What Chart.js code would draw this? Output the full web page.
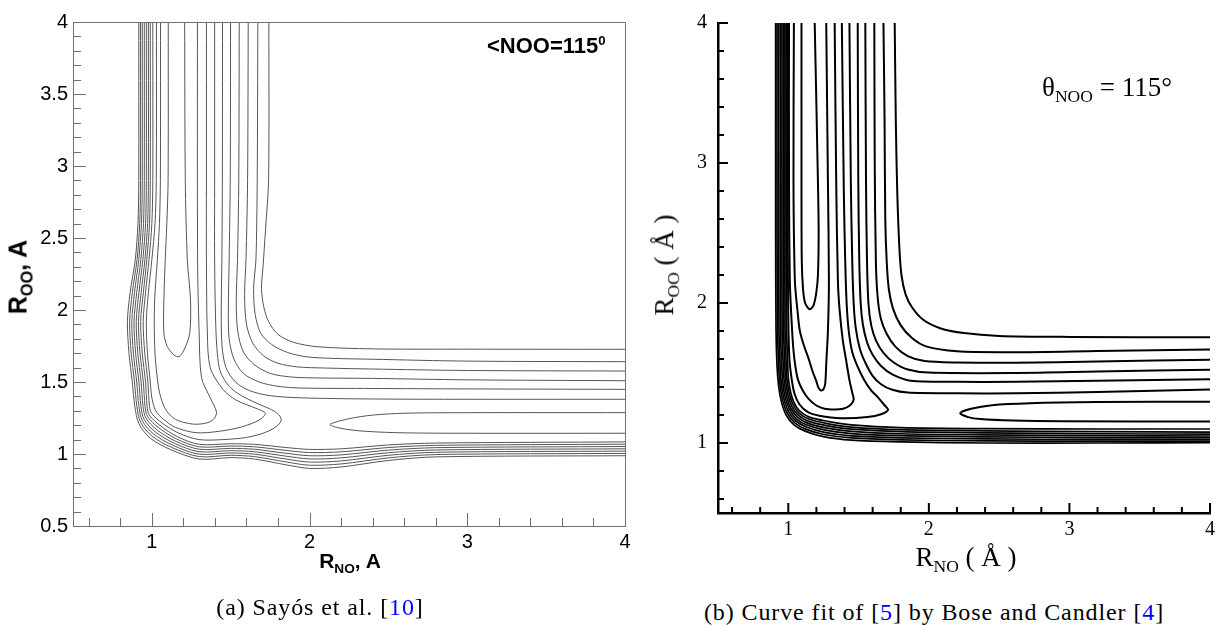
<!DOCTYPE html>
<html>
<head>
<meta charset="utf-8">
<script src="https://cdn.jsdelivr.net/npm/chart.js@4.4.1/dist/chart.umd.min.js"></script>
<style>
  html, body { margin: 0; padding: 0; background: #fff; }
  #page { position: relative; width: 1220px; height: 626px; overflow: hidden; background: #fff; }
  canvas { position: absolute; }
  #left-chart { left: 0; top: 0; }
  #right-chart { left: 630px; top: 0; }
  .txt { position: absolute; white-space: nowrap; line-height: 1; color: #000; }
  .sans { font-family: "Liberation Sans", Arial, sans-serif; font-weight: bold; }
  .serif { font-family: "Liberation Serif", "Times New Roman", serif; }
  .rot { transform: translate(-50%, -50%) rotate(-90deg); }
  .ctr { transform: translate(-50%, -50%); }
  .cap { letter-spacing: 0.9px; }
  .ref { color: #0000ff; }
  sub { font-size: 0.65em; vertical-align: -0.35em; }
  sup { font-size: 0.6em; vertical-align: 0.6em; }
</style>
</head>
<body>
<div id="page">
  <canvas id="left-chart" width="640" height="580"></canvas>
  <canvas id="right-chart" width="590" height="550"></canvas>

  <div class="txt sans rot" style="left:20px;top:277px;font-size:25px">R<sub>OO</sub>, A</div>
  <div class="txt sans ctr" style="left:350px;top:563px;font-size:21px">R<sub>NO</sub>, A</div>
  <div class="txt sans" style="left:487px;top:34px;font-size:22px">&lt;NOO=115<sup>0</sup></div>
  <div class="txt serif ctr cap" style="left:320px;top:607px;font-size:24px">(a) Sayós et al. [<span class="ref">10</span>]</div>

  <div class="txt serif rot" style="left:667px;top:265px;font-size:27px">R<sub>OO</sub> ( Å )</div>
  <div class="txt serif ctr" style="left:966px;top:560px;font-size:27px">R<sub>NO</sub> ( Å )</div>
  <div class="txt serif" style="left:1042px;top:74px;font-size:27px">θ<sub>NOO</sub> = 115°</div>
  <div class="txt serif ctr cap" style="left:934px;top:612px;font-size:24px">(b) Curve fit of [<span class="ref">5</span>] by Bose and Candler [<span class="ref">4</span>]</div>
</div>

<script>
// ---- (a) Sayos et al. : axis ticks ----
const leftXMajor = [1, 2, 3, 4];
const leftXMinor = [0.6, 0.8, 1.2, 1.4, 1.6, 1.8, 2.2, 2.4, 2.6, 2.8, 3.2, 3.4, 3.6, 3.8];
const leftYMajor = [0.5, 1, 1.5, 2, 2.5, 3, 3.5, 4];
const leftYMinor = [0.6, 0.7, 0.8, 0.9, 1.1, 1.2, 1.3, 1.4, 1.6, 1.7, 1.8, 1.9, 2.1, 2.2, 2.3, 2.4,
    2.6, 2.7, 2.8, 2.9, 3.1, 3.2, 3.3, 3.4, 3.6, 3.7, 3.8, 3.9];

// repulsive wall lines, running from the top round the corner to the right edge
const leftWalls = [
    [[0.917,4],[0.917,2.9],[0.912,2.6],[0.895,2.35],[0.862,2.12],[0.845,1.92],[0.855,1.7],[0.876,1.5],[0.892,1.33],[0.918,1.21],[0.99,1.11],[1.12,1.03],[1.3,0.965],[1.5,0.975],[1.65,0.965],[1.85,0.925],[2.0,0.9],[2.2,0.91],[2.5,0.955],[2.8,0.98],[4,0.988]],
    [[0.928,4],[0.928,2.9],[0.923,2.6],[0.906,2.35],[0.876,2.12],[0.859,1.92],[0.869,1.7],[0.89,1.5],[0.905,1.33],[0.929,1.22],[1.0,1.125],[1.127,1.045],[1.3,0.982],[1.5,0.991],[1.65,0.982],[1.85,0.945],[2.0,0.922],[2.2,0.931],[2.5,0.973],[2.8,0.996],[4,1.004]],
    [[0.939,4],[0.939,2.9],[0.934,2.6],[0.917,2.35],[0.89,2.12],[0.873,1.92],[0.883,1.7],[0.904,1.5],[0.918,1.33],[0.94,1.23],[1.01,1.14],[1.134,1.06],[1.3,0.999],[1.5,1.007],[1.65,0.999],[1.85,0.965],[2.0,0.944],[2.2,0.952],[2.5,0.991],[2.8,1.012],[4,1.02]],
    [[0.952,4],[0.952,2.9],[0.947,2.6],[0.93,2.35],[0.904,2.12],[0.887,1.92],[0.897,1.7],[0.918,1.5],[0.931,1.33],[0.951,1.24],[1.02,1.155],[1.141,1.075],[1.3,1.016],[1.5,1.023],[1.65,1.016],[1.85,0.985],[2.0,0.966],[2.2,0.973],[2.5,1.009],[2.8,1.028],[4,1.036]],
    [[0.965,4],[0.965,2.9],[0.96,2.6],[0.943,2.35],[0.918,2.12],[0.901,1.92],[0.911,1.7],[0.932,1.5],[0.944,1.33],[0.962,1.25],[1.03,1.17],[1.148,1.09],[1.3,1.033],[1.5,1.039],[1.65,1.033],[1.85,1.005],[2.0,0.988],[2.2,0.994],[2.5,1.027],[2.8,1.044],[4,1.052]],
    [[0.978,4],[0.978,2.9],[0.973,2.6],[0.956,2.35],[0.932,2.12],[0.915,1.92],[0.925,1.7],[0.946,1.5],[0.957,1.33],[0.973,1.26],[1.04,1.185],[1.155,1.105],[1.3,1.05],[1.5,1.055],[1.65,1.05],[1.85,1.025],[2.0,1.01],[2.2,1.015],[2.5,1.045],[2.8,1.06],[4,1.068]],
    [[0.99,4],[0.99,2.9],[0.985,2.6],[0.968,2.35],[0.946,2.12],[0.929,1.92],[0.939,1.7],[0.96,1.5],[0.97,1.33],[0.984,1.27],[1.05,1.2],[1.162,1.12],[1.3,1.067],[1.5,1.071],[1.65,1.067],[1.85,1.045],[2.0,1.032],[2.2,1.036],[2.5,1.063],[2.8,1.076],[4,1.084]]
];

// closed loops hanging from the top (well, V-tip, lobe, outer lobe)
const leftLoops = [
    [[1.104,4],[1.103,2.9],[1.095,2.6],[1.085,2.35],[1.077,2.1],[1.076,1.84],[1.098,1.746],[1.14,1.688],[1.172,1.676],[1.204,1.723],[1.24,1.838],[1.245,2.07],[1.225,2.35],[1.212,2.9],[1.208,4]],
    [[1.055,4],[1.054,2.9],[1.048,2.6],[1.035,2.35],[1.02,2.12],[1.015,1.92],[1.02,1.7],[1.032,1.55],[1.05,1.42],[1.087,1.31],[1.151,1.24],[1.257,1.208],[1.342,1.214],[1.39,1.24],[1.41,1.29],[1.37,1.39],[1.315,1.53],[1.3,1.84],[1.29,2.35],[1.289,4]],
    [[1.029,4],[1.028,2.9],[1.02,2.6],[1.0,2.35],[0.978,2.12],[0.965,1.92],[0.972,1.7],[0.99,1.5],[1.0,1.39],[1.025,1.3],[1.075,1.24],[1.15,1.185],[1.28,1.148],[1.43,1.158],[1.575,1.19],[1.68,1.236],[1.72,1.283],[1.66,1.317],[1.533,1.375],[1.45,1.45],[1.37,1.6],[1.352,1.84],[1.346,2.35],[1.346,2.9],[1.346,4]],
    [[1.006,4],[1.006,2.9],[1.0,2.6],[0.982,2.35],[0.96,2.12],[0.945,1.92],[0.955,1.7],[0.975,1.5],[0.985,1.33],[1.0,1.28],[1.065,1.215],[1.17,1.145],[1.3,1.1],[1.45,1.1],[1.6,1.115],[1.72,1.15],[1.8,1.2],[1.82,1.245],[1.78,1.295],[1.66,1.355],[1.56,1.41],[1.49,1.47],[1.435,1.57],[1.415,1.7],[1.405,1.9],[1.398,2.35],[1.398,2.9],[1.398,4]]
];

// lines turning the corner from the O + NO channel into the N + O2 channel
const leftCorners = [
    [[1.742,4],[1.74,2.9],[1.72,2.55],[1.705,2.3],[1.695,2.15],[1.71,2.02],[1.74,1.92],[1.8,1.83],[1.9,1.775],[2.05,1.745],[2.4,1.73],[3,1.728],[4,1.727]],
    [[1.672,4],[1.668,2.9],[1.66,2.35],[1.645,2.15],[1.655,1.97],[1.69,1.84],[1.76,1.76],[1.86,1.705],[1.98,1.675],[2.15,1.664],[2.4,1.658],[3,1.645],[4,1.641]],
    [[1.611,4],[1.607,2.9],[1.597,2.35],[1.588,2.1],[1.6,1.9],[1.64,1.77],[1.71,1.68],[1.8,1.63],[1.92,1.605],[2.1,1.597],[2.4,1.59],[3,1.58],[4,1.576]],
    [[1.554,4],[1.551,2.9],[1.543,2.35],[1.535,2.05],[1.545,1.85],[1.58,1.71],[1.65,1.62],[1.75,1.56],[1.88,1.535],[2.05,1.528],[2.4,1.525],[3,1.515],[4,1.509]],
    [[1.499,4],[1.497,2.9],[1.49,2.35],[1.485,2.0],[1.49,1.8],[1.52,1.66],[1.58,1.56],[1.68,1.5],[1.8,1.47],[1.95,1.458],[2.4,1.455],[3,1.452],[4,1.449]],
    [[1.448,4],[1.447,2.9],[1.444,2.35],[1.44,2.0],[1.445,1.75],[1.47,1.6],[1.53,1.5],[1.62,1.44],[1.75,1.405],[1.95,1.39],[2.4,1.382],[3,1.38],[4,1.38]]
];

const leftTongue = [[4,1.287],[3,1.287],[2.6,1.283],[2.4,1.27],[2.25,1.245],[2.13,1.205],[2.2,1.178],[2.35,1.158],[2.6,1.147],[3,1.144],[4,1.144]];

// ---- (b) Bose and Candler fit : axis ticks ----
const rightXMajor = [1, 2, 3, 4];
const rightXMinor = [0.6, 0.8, 1.2, 1.4, 1.6, 1.8, 2.2, 2.4, 2.6, 2.8, 3.2, 3.4, 3.6, 3.8];
const rightYMajor = [1, 2, 3, 4];
const rightYMinor = [0.6, 0.8, 1.2, 1.4, 1.6, 1.8, 2.2, 2.4, 2.6, 2.8, 3.2, 3.4, 3.6, 3.8];

const rightWalls = [
    [[0.91,4],[0.91,2.5],[0.913,1.8],[0.92,1.55],[0.932,1.4],[0.952,1.29],[0.985,1.2],[1.04,1.13],[1.12,1.085],[1.25,1.045],[1.45,1.02],[1.8,1.008],[2.4,1.0],[3.2,1.0],[4,1.002]],
    [[0.92,4],[0.92,2.5],[0.924,1.8],[0.931,1.557],[0.942,1.41],[0.961,1.301],[0.993,1.213],[1.046,1.144],[1.124,1.099],[1.254,1.061],[1.45,1.036],[1.8,1.023],[2.4,1.015],[3.2,1.013],[4,1.013]],
    [[0.932,4],[0.932,2.5],[0.934,1.8],[0.941,1.564],[0.951,1.42],[0.97,1.313],[1.001,1.226],[1.051,1.159],[1.129,1.114],[1.259,1.076],[1.45,1.051],[1.8,1.037],[2.4,1.029],[3.2,1.026],[4,1.026]],
    [[0.944,4],[0.944,2.5],[0.945,1.8],[0.952,1.571],[0.961,1.43],[0.979,1.324],[1.009,1.239],[1.057,1.173],[1.133,1.128],[1.263,1.092],[1.45,1.067],[1.8,1.052],[2.4,1.044],[3.2,1.039],[4,1.038]],
    [[0.955,4],[0.955,2.5],[0.956,1.8],[0.963,1.579],[0.971,1.44],[0.988,1.336],[1.016,1.251],[1.063,1.187],[1.137,1.142],[1.267,1.108],[1.45,1.083],[1.8,1.066],[2.4,1.058],[3.2,1.052],[4,1.05]],
    [[0.966,4],[0.966,2.5],[0.967,1.8],[0.974,1.586],[0.981,1.45],[0.997,1.347],[1.024,1.264],[1.069,1.201],[1.141,1.156],[1.271,1.124],[1.45,1.099],[1.8,1.081],[2.4,1.073],[3.2,1.066],[4,1.063]],
    [[0.976,4],[0.976,2.5],[0.977,1.8],[0.984,1.593],[0.99,1.46],[1.006,1.359],[1.032,1.277],[1.074,1.216],[1.146,1.171],[1.276,1.139],[1.45,1.114],[1.8,1.095],[2.4,1.087],[3.2,1.081],[4,1.078]],
    [[0.985,4],[0.985,2.5],[0.988,1.8],[0.995,1.6],[1.0,1.47],[1.015,1.37],[1.04,1.29],[1.08,1.23],[1.15,1.185],[1.28,1.155],[1.45,1.13],[1.8,1.11],[2.4,1.102],[3.2,1.1],[4,1.1]]
];

const rightLoops = [
    [[1.094,4],[1.094,2.862],[1.096,2.3],[1.105,2.1],[1.12,2.0],[1.153,1.955],[1.18,1.985],[1.2,2.08],[1.211,2.2],[1.216,2.5],[1.211,2.862],[1.188,4]],
    [[1.04,4],[1.037,2.862],[1.047,2.155],[1.065,1.95],[1.082,1.802],[1.11,1.7],[1.141,1.613],[1.17,1.52],[1.2,1.44],[1.215,1.395],[1.235,1.375],[1.252,1.388],[1.263,1.425],[1.27,1.566],[1.282,1.802],[1.289,2.155],[1.282,2.862],[1.27,4]],
    [[1.005,4],[1.005,2.862],[1.011,2.155],[1.022,1.9],[1.035,1.684],[1.05,1.55],[1.07,1.449],[1.1,1.38],[1.141,1.319],[1.2,1.268],[1.258,1.245],[1.33,1.24],[1.39,1.245],[1.44,1.27],[1.465,1.31],[1.455,1.36],[1.435,1.449],[1.41,1.6],[1.388,1.731],[1.365,1.95],[1.353,2.155],[1.341,2.862],[1.33,4]],
    [[0.995,4],[0.996,2.5],[1.0,1.9],[1.008,1.6],[1.025,1.45],[1.045,1.35],[1.08,1.275],[1.14,1.22],[1.22,1.195],[1.376,1.177],[1.564,1.185],[1.66,1.205],[1.71,1.237],[1.68,1.275],[1.635,1.33],[1.588,1.378],[1.54,1.45],[1.494,1.543],[1.455,1.65],[1.43,1.8],[1.415,2.0],[1.405,2.3],[1.395,2.8],[1.381,4]]
];

const rightCorners = [
    [[1.757,4],[1.765,3.3],[1.775,2.8],[1.79,2.4],[1.805,2.2],[1.835,2.06],[1.88,1.97],[1.96,1.88],[2.08,1.82],[2.25,1.785],[2.5,1.765],[3,1.758],[4,1.755]],
    [[1.677,4],[1.685,3.3],[1.69,2.6],[1.7,2.3],[1.715,2.1],[1.745,1.96],[1.8,1.84],[1.88,1.75],[1.98,1.69],[2.2,1.655],[2.62,1.649],[3.2,1.657],[4,1.668]],
    [[1.612,4],[1.615,3.0],[1.623,2.3],[1.635,2.05],[1.658,1.89],[1.7,1.78],[1.76,1.69],[1.85,1.62],[1.97,1.585],[2.2,1.575],[2.62,1.573],[3.2,1.583],[4,1.595]],
    [[1.548,4],[1.553,2.86],[1.56,2.3],[1.57,2.0],[1.59,1.84],[1.625,1.73],[1.68,1.64],[1.75,1.575],[1.85,1.525],[2.0,1.503],[2.62,1.5],[3.2,1.51],[4,1.524]],
    [[1.494,4],[1.498,2.86],[1.505,2.3],[1.515,2.0],[1.53,1.85],[1.56,1.72],[1.6,1.63],[1.66,1.55],[1.74,1.49],[1.87,1.445],[2.2,1.437],[2.62,1.437],[3.2,1.445],[4,1.456]],
    [[1.435,4],[1.445,2.86],[1.455,2.3],[1.465,2.0],[1.48,1.82],[1.51,1.67],[1.55,1.57],[1.6,1.48],[1.66,1.42],[1.74,1.38],[1.85,1.36],[2.2,1.355],[2.62,1.355],[3.2,1.365],[4,1.383]]
];

const rightTongue = [[4,1.295],[3.2,1.292],[2.72,1.284],[2.45,1.27],[2.3,1.245],[2.223,1.213],[2.28,1.185],[2.364,1.171],[2.6,1.16],[2.95,1.155],[4,1.154]];

document.addEventListener('DOMContentLoaded', function() {
    drawLeft();
    drawRight();
});

function toXY(line) {
    return line.map(p => ({ x: p[0], y: p[1] }));
}

// ticks point into the plot area, so draw them after the lines
function inwardTicks(t) {
    return {
        id: 'inwardTicks',
        afterDatasetsDraw(chart) {
            const { ctx, chartArea: a, scales: { x, y } } = chart;
            const snap = v => t.width % 2 === 1 ? Math.round(v) + 0.5 : v;
            ctx.save();
            ctx.strokeStyle = t.color;
            ctx.lineWidth = t.width;
            ctx.beginPath();
            const xTick = len => v => {
                const px = snap(x.getPixelForValue(v));
                ctx.moveTo(px, a.bottom);
                ctx.lineTo(px, a.bottom - len);
            };
            const yTick = len => v => {
                const py = snap(y.getPixelForValue(v));
                ctx.moveTo(a.left, py);
                ctx.lineTo(a.left + len, py);
            };
            t.xMajor.forEach(xTick(t.major));
            t.xMinor.forEach(xTick(t.minor));
            t.yMajor.forEach(yTick(t.major));
            t.yMinor.forEach(yTick(t.minor));
            if (t.frame) {
                ctx.moveTo(a.left, snap(a.top));
                ctx.lineTo(snap(a.right), snap(a.top));
                ctx.lineTo(snap(a.right), a.bottom);
            }
            ctx.stroke();
            ctx.restore();
        }
    };
}

function lineSet(lines, color, width) {
    return lines.map(l => ({
        data: toXY(l),
        showLine: true,
        borderColor: color,
        borderWidth: width,
        pointRadius: 0,
        tension: 0.3,
        fill: false
    }));
}

function axis(major, font, padding, box, isX) {
    return {
        type: 'linear',
        min: 0.5,
        max: 4,
        grid: { display: false, drawTicks: false },
        border: { display: true, color: box.color, width: box.width },
        afterBuildTicks: s => { s.ticks = major.map(v => ({ value: v })); },
        afterFit: s => { if (isX) s.height = box.size; else s.width = box.size; },
        ticks: { padding: padding, color: '#000', font: font, autoSkip: false, maxRotation: 0, callback: v => String(v) }
    };
}

function drawLeft() {
    const color = '#555';
    const datasets = [].concat(
        lineSet(leftWalls, color, 1),
        lineSet(leftLoops, color, 1),
        lineSet(leftCorners, color, 1),
        lineSet([leftTongue], color, 1)
    );
    const font = { family: 'Liberation Sans', size: 20 };
    new Chart(document.getElementById('left-chart'), {
        type: 'scatter',
        data: { datasets },
        options: {
            responsive: false,
            animation: false,
            devicePixelRatio: 1,
            events: [],
            layout: { padding: { left: 0, top: 22, right: 15, bottom: 0 }, autoPadding: false },
            plugins: { legend: { display: false }, tooltip: { enabled: false } },
            scales: {
                x: axis(leftXMajor, font, 4, { color: '#707070', width: 1, size: 54 }, true),
                y: axis(leftYMajor, font, 5, { color: '#707070', width: 1, size: 73 }, false)
            }
        },
        plugins: [inwardTicks({
            xMajor: leftXMajor, xMinor: leftXMinor, yMajor: leftYMajor, yMinor: leftYMinor,
            major: 13, minor: 8, color: '#707070', width: 1, frame: true
        })]
    });
}

function drawRight() {
    const datasets = [].concat(
        lineSet(rightWalls, '#000', 1.7),
        lineSet(rightLoops, '#000', 2),
        lineSet(rightCorners, '#000', 2),
        lineSet([rightTongue], '#000', 2)
    );
    const font = { family: 'Liberation Serif', size: 20 };
    new Chart(document.getElementById('right-chart'), {
        type: 'scatter',
        data: { datasets },
        options: {
            responsive: false,
            animation: false,
            devicePixelRatio: 1,
            events: [],
            layout: { padding: { left: 0, top: 19, right: 5, bottom: 0 }, autoPadding: false },
            plugins: { legend: { display: false }, tooltip: { enabled: false } },
            scales: {
                x: axis(rightXMajor, font, 5, { color: '#000', width: 2.5, size: 37 }, true),
                y: axis(rightYMajor, font, 11, { color: '#000', width: 2.5, size: 88 }, false)
            }
        },
        plugins: [inwardTicks({
            xMajor: rightXMajor, xMinor: rightXMinor, yMajor: rightYMajor, yMinor: rightYMinor,
            major: 10, minor: 6, color: '#000', width: 2, frame: false
        })]
    });
}
</script>
</body>
</html>
